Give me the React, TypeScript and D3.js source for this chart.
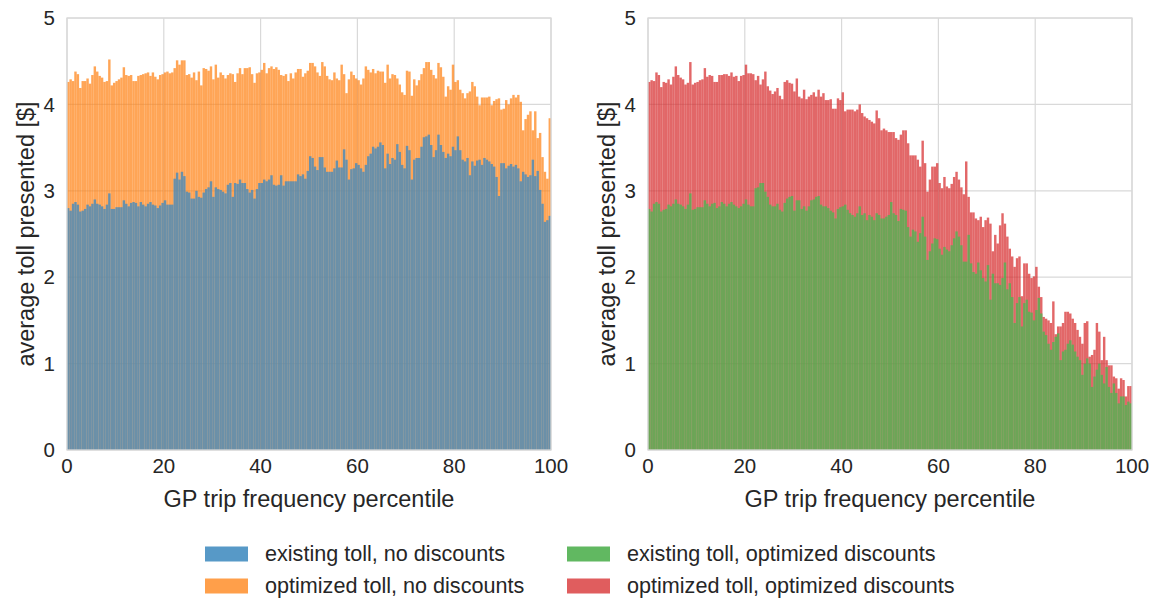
import React from "react";
import * as d3 from "d3";

// ---------- data ----------
const BIN_WIDTH = 0.5;
const binStarts: number[] = d3.range(0, 100, BIN_WIDTH);

const xTicks = [0, 20, 40, 60, 80, 100];
const yTicks = [0, 1, 2, 3, 4, 5];

// left panel: existing toll, no discounts (blue)
const existingNoDisc = [
  2.80, 2.77, 2.85, 2.87, 2.84, 2.76, 2.77, 2.79, 2.84, 2.82, 2.85, 2.90, 2.85, 2.84, 2.82, 2.79, 2.84, 2.97, 2.79, 2.79,
  2.81, 2.81, 2.81, 2.89, 2.85, 2.82, 2.86, 2.87, 2.86, 2.82, 2.87, 2.84, 2.82, 2.85, 2.87, 2.84, 2.83, 2.80, 2.83, 2.86,
  2.89, 2.84, 2.84, 2.84, 3.14, 3.21, 3.13, 3.22, 3.17, 2.99, 2.98, 2.91, 2.91, 3.00, 2.93, 2.92, 2.98, 3.02, 3.04, 3.11,
  2.93, 3.04, 3.02, 3.01, 2.99, 2.97, 3.07, 3.09, 2.93, 3.09, 3.08, 3.13, 3.09, 3.09, 3.02, 2.98, 3.01, 2.91, 3.02, 3.09,
  3.09, 3.13, 3.11, 3.13, 3.18, 3.07, 3.06, 3.07, 3.18, 3.06, 3.11, 3.11, 3.11, 3.11, 3.11, 3.19, 3.17, 3.19, 3.14, 3.23,
  3.40, 3.38, 3.28, 3.24, 3.39, 3.39, 3.27, 3.22, 3.22, 3.22, 3.26, 3.35, 3.27, 3.27, 3.48, 3.36, 3.13, 3.25, 3.26, 3.32,
  3.30, 3.26, 3.22, 3.30, 3.40, 3.43, 3.51, 3.49, 3.51, 3.56, 3.53, 3.26, 3.43, 3.31, 3.38, 3.36, 3.54, 3.45, 3.30, 3.26,
  3.52, 3.47, 3.13, 3.36, 3.38, 3.38, 3.51, 3.62, 3.63, 3.65, 3.53, 3.39, 3.47, 3.65, 3.53, 3.45, 3.38, 3.43, 3.40, 3.51,
  3.47, 3.63, 3.47, 3.36, 3.34, 3.38, 3.18, 3.34, 3.29, 3.35, 3.36, 3.30, 3.38, 3.36, 3.34, 3.31, 3.28, 3.16, 2.94, 3.32,
  3.32, 3.26, 3.29, 3.31, 3.28, 3.30, 3.26, 3.11, 3.22, 3.19, 3.16, 3.18, 3.36, 3.17, 3.23, 3.01, 2.85, 2.64, 2.66, 2.71,
];

// left panel: optimized toll, no discounts (orange)
const optimizedNoDisc = [
  4.26, 4.29, 4.27, 4.38, 4.35, 4.19, 4.27, 4.27, 4.30, 4.24, 4.34, 4.44, 4.38, 4.33, 4.31, 4.26, 4.27, 4.52, 4.22, 4.25,
  4.27, 4.29, 4.31, 4.43, 4.34, 4.33, 4.34, 4.27, 4.27, 4.33, 4.34, 4.35, 4.36, 4.37, 4.33, 4.37, 4.32, 4.29, 4.34, 4.35,
  4.37, 4.38, 4.36, 4.37, 4.42, 4.51, 4.46, 4.51, 4.51, 4.34, 4.35, 4.31, 4.37, 4.28, 4.38, 4.22, 4.42, 4.41, 4.39, 4.44,
  4.29, 4.46, 4.31, 4.37, 4.34, 4.30, 4.34, 4.36, 4.35, 4.26, 4.36, 4.42, 4.35, 4.42, 4.42, 4.43, 4.35, 4.25, 4.36, 4.37,
  4.40, 4.48, 4.36, 4.42, 4.44, 4.41, 4.43, 4.40, 4.34, 4.33, 4.35, 4.27, 4.36, 4.30, 4.37, 4.41, 4.41, 4.32, 4.36, 4.39,
  4.48, 4.48, 4.44, 4.37, 4.33, 4.49, 4.44, 4.33, 4.29, 4.28, 4.37, 4.30, 4.28, 4.46, 4.35, 4.13, 4.29, 4.38, 4.34, 4.30,
  4.28, 4.23, 4.30, 4.44, 4.40, 4.37, 4.41, 4.36, 4.39, 4.38, 4.38, 4.25, 4.46, 4.30, 4.35, 4.34, 4.30, 4.23, 4.14, 4.11,
  4.39, 4.38, 4.10, 4.29, 4.22, 4.28, 4.35, 4.42, 4.49, 4.49, 4.40, 4.34, 4.30, 4.48, 4.43, 4.32, 4.09, 4.21, 4.17, 4.46,
  4.26, 4.28, 4.17, 4.13, 4.07, 4.13, 4.15, 4.26, 4.21, 4.09, 3.99, 4.08, 4.08, 4.08, 4.09, 3.99, 4.04, 4.06, 4.07, 3.94,
  3.95, 4.05, 4.00, 4.07, 4.11, 4.08, 4.11, 4.03, 3.70, 3.83, 3.88, 3.92, 3.70, 3.92, 3.61, 3.67, 3.39, 3.22, 3.14, 3.84,
];

// right panel: existing toll, optimized discounts (green)
const existingOptDisc = [
  2.79, 2.76, 2.85, 2.87, 2.85, 2.76, 2.78, 2.79, 2.84, 2.82, 2.85, 2.90, 2.85, 2.84, 2.82, 2.79, 2.84, 2.97, 2.78, 2.79,
  2.81, 2.81, 2.81, 2.89, 2.85, 2.82, 2.85, 2.86, 2.80, 2.82, 2.87, 2.85, 2.82, 2.85, 2.87, 2.84, 2.82, 2.80, 2.82, 2.85,
  2.90, 2.84, 2.82, 2.82, 3.03, 3.04, 3.09, 3.09, 2.99, 2.93, 2.84, 2.82, 2.82, 2.85, 2.78, 2.76, 2.86, 2.91, 2.93, 2.94,
  2.77, 2.89, 2.89, 2.79, 2.82, 2.77, 2.82, 2.89, 2.90, 2.93, 2.94, 2.84, 2.82, 2.82, 2.80, 2.77, 2.75, 2.68, 2.79, 2.81,
  2.82, 2.84, 2.78, 2.74, 2.72, 2.70, 2.74, 2.82, 2.72, 2.74, 2.66, 2.72, 2.70, 2.66, 2.74, 2.72, 2.68, 2.68, 2.70, 2.72,
  2.87, 2.74, 2.72, 2.65, 2.79, 2.78, 2.77, 2.58, 2.47, 2.55, 2.53, 2.41, 2.51, 2.70, 2.47, 2.20, 2.30, 2.39, 2.45, 2.44,
  2.33, 2.26, 2.35, 2.32, 2.30, 2.37, 2.45, 2.53, 2.47, 2.37, 2.18, 2.18, 2.49, 2.16, 2.06, 2.04, 2.17, 2.08, 1.99, 1.95,
  2.14, 1.74, 2.04, 1.93, 1.93, 1.91, 1.99, 2.17, 1.86, 1.93, 1.77, 1.47, 1.70, 1.77, 1.43, 1.70, 1.74, 1.60, 1.59, 1.50,
  1.62, 1.76, 1.58, 1.37, 1.33, 1.23, 1.16, 1.25, 1.31, 1.35, 1.04, 1.14, 1.16, 1.23, 1.27, 1.22, 1.14, 1.08, 1.04, 0.87,
  1.00, 1.06, 1.00, 0.73, 0.85, 0.93, 1.00, 0.87, 0.77, 0.96, 0.73, 0.66, 0.77, 0.66, 0.54, 0.62, 0.62, 0.52, 0.56, 0.54,
];

// right panel: optimized toll, optimized discounts (red)
const optimizedOptDisc = [
  4.26, 4.28, 4.27, 4.37, 4.34, 4.20, 4.26, 4.25, 4.29, 4.23, 4.32, 4.44, 4.34, 4.31, 4.29, 4.23, 4.25, 4.49, 4.23, 4.25,
  4.26, 4.28, 4.29, 4.42, 4.32, 4.34, 4.33, 4.26, 4.26, 4.34, 4.34, 4.35, 4.35, 4.33, 4.37, 4.32, 4.33, 4.27, 4.33, 4.34,
  4.46, 4.36, 4.36, 4.35, 4.28, 4.33, 4.23, 4.29, 4.38, 4.21, 4.16, 4.12, 4.15, 4.19, 4.10, 4.06, 4.26, 4.28, 4.25, 4.24,
  4.15, 4.30, 4.09, 4.07, 4.17, 4.06, 4.09, 4.11, 4.14, 4.09, 4.17, 4.09, 4.13, 4.05, 4.05, 4.06, 3.95, 3.95, 4.07, 4.05,
  4.14, 3.92, 3.94, 3.94, 3.94, 3.92, 3.94, 4.00, 3.90, 3.86, 3.84, 3.82, 3.80, 3.78, 3.93, 3.84, 3.70, 3.72, 3.70, 3.68,
  3.68, 3.68, 3.61, 3.59, 3.65, 3.70, 3.70, 3.55, 3.41, 3.41, 3.41, 3.36, 3.28, 3.58, 3.32, 2.99, 3.13, 3.28, 3.28, 3.32,
  3.09, 3.03, 3.16, 3.05, 3.03, 3.08, 3.16, 3.22, 3.13, 3.04, 2.96, 3.34, 2.93, 2.75, 2.75, 2.68, 2.66, 2.70, 2.58, 2.66,
  2.69, 2.62, 2.30, 2.49, 2.39, 2.60, 2.74, 2.62, 2.47, 2.33, 2.24, 2.12, 2.22, 2.24, 1.78, 2.16, 2.16, 2.04, 1.99, 2.01,
  2.12, 1.89, 1.77, 1.54, 1.52, 1.50, 1.47, 1.72, 1.34, 1.43, 1.43, 1.47, 1.60, 1.60, 1.58, 1.52, 1.47, 1.39, 1.31, 1.23,
  1.47, 1.49, 1.08, 1.10, 1.16, 1.47, 1.37, 1.04, 1.31, 1.04, 0.98, 0.98, 0.85, 0.83, 0.71, 0.83, 0.81, 0.62, 0.74, 0.74,
];

const legendLabels = [
  "existing toll, no discounts",
  "optimized toll, no discounts",
  "existing toll, optimized discounts",
  "optimized toll, optimized discounts",
];

// ---------- style ----------
const W = 1156;
const H = 603;
const TOP = 18;
const BOTTOM = 450;
const PANEL_W = 484;
const PANEL_LEFTS = [67, 648];
const GRID = "#d9d9d9";
const TEXT = "#262626";
const FONT = "'Liberation Sans', Arial, Helvetica, sans-serif";
const BACK_ALPHA = 0.7;
const FRONT_ALPHA = 0.75;
// bar colours (front bars are slightly brighter so the overlay tint matches)
const BAR_COLORS = {
  blue: "#3a8ac4",
  orange: "#ff7f0e",
  green: "#45ba52",
  red: "#d62728",
};
// legend patch colours (tab colours at 0.75 alpha on white)
const LEGEND_COLORS = ["#5799c7", "#ff9f4a", "#61b861", "#e05d5e"];

type PanelProps = {
  left: number;
  back: number[];
  front: number[];
  backColor: string;
  frontColor: string;
};

function Panel({ left, back, front, backColor, frontColor }: PanelProps) {
  const x = d3.scaleLinear().domain([0, 100]).range([left, left + PANEL_W]);
  const y = d3.scaleLinear().domain([0, 5]).range([BOTTOM, TOP]);
  const bw = x(BIN_WIDTH) - x(0);
  return (
    <g>
      {yTicks.map((t) => (
        <line key={"gy" + t} x1={x(0)} x2={x(100)} y1={y(t)} y2={y(t)} stroke={GRID} strokeWidth={1.2} />
      ))}
      {xTicks.map((t) => (
        <line key={"gx" + t} x1={x(t)} x2={x(t)} y1={y(0)} y2={y(5)} stroke={GRID} strokeWidth={1.2} />
      ))}
      {binStarts.map((b, i) => (
        <rect
          key={"b" + i}
          x={x(b)}
          y={y(back[i])}
          width={bw}
          height={y(0) - y(back[i])}
          fill={backColor}
          fillOpacity={BACK_ALPHA}
        />
      ))}
      {binStarts.map((b, i) => (
        <rect
          key={"f" + i}
          x={x(b)}
          y={y(front[i])}
          width={bw}
          height={y(0) - y(front[i])}
          fill={frontColor}
          fillOpacity={FRONT_ALPHA}
        />
      ))}
      <rect x={x(0)} y={y(5)} width={x(100) - x(0)} height={y(0) - y(5)} fill="none" stroke={GRID} strokeWidth={1.3} />
      {yTicks.map((t) => (
        <text key={"ty" + t} x={x(0) - 12} y={y(t) + 7.2} textAnchor="end" fontSize={20.5} fill={TEXT} fontFamily={FONT}>
          {t}
        </text>
      ))}
      {xTicks.map((t) => (
        <text key={"tx" + t} x={x(t)} y={y(0) + 22.5} textAnchor="middle" fontSize={20.5} fill={TEXT} fontFamily={FONT}>
          {t}
        </text>
      ))}
      <text x={(x(0) + x(100)) / 2} y={507} textAnchor="middle" fontSize={23.5} fill={TEXT} fontFamily={FONT}>
        GP trip frequency percentile
      </text>
      <text
        transform={`translate(${x(0) - 33},${(y(0) + y(5)) / 2}) rotate(-90)`}
        textAnchor="middle"
        fontSize={23.5}
        fill={TEXT}
        fontFamily={FONT}
      >
        average toll presented [$]
      </text>
    </g>
  );
}

export default function App() {
  const legendCols = [205, 567];
  const legendRows = [554, 586];
  return (
    <svg
      width={W}
      height={H}
      viewBox={`0 0 ${W} ${H}`}
      style={{ position: "absolute", left: 0, top: 0, display: "block", background: "#fff" }}
    >
      <rect x={0} y={0} width={W} height={H} fill="#fff" />
      <Panel
        left={PANEL_LEFTS[0]}
        back={optimizedNoDisc}
        front={existingNoDisc}
        backColor={BAR_COLORS.orange}
        frontColor={BAR_COLORS.blue}
      />
      <Panel
        left={PANEL_LEFTS[1]}
        back={optimizedOptDisc}
        front={existingOptDisc}
        backColor={BAR_COLORS.red}
        frontColor={BAR_COLORS.green}
      />
      {legendLabels.map((lab, i) => {
        const cx = legendCols[Math.floor(i / 2)];
        const cy = legendRows[i % 2];
        return (
          <g key={lab}>
            <rect x={cx} y={cy - 7.5} width={43} height={15} fill={LEGEND_COLORS[i]} />
            <text x={cx + 60} y={cy + 7} fontSize={21.6} fill={TEXT} fontFamily={FONT}>
              {lab}
            </text>
          </g>
        );
      })}
    </svg>
  );
}
